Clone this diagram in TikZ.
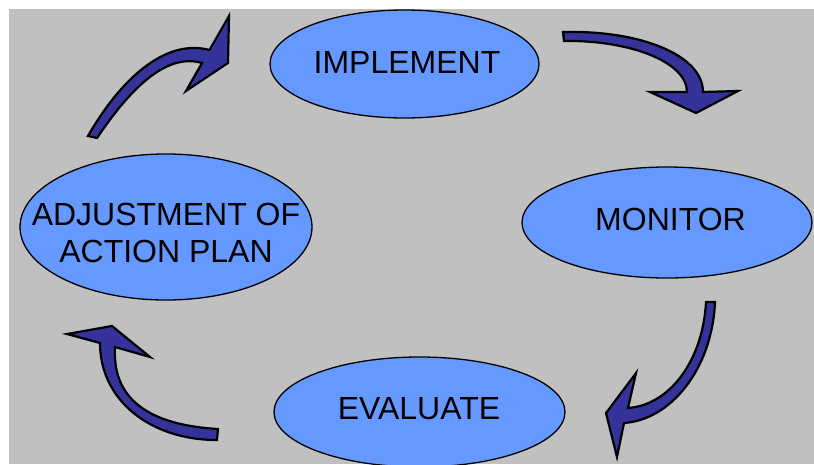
\documentclass[tikz,border=0pt]{standalone}
\usepackage{fontspec}
\setmainfont{Liberation Sans}
\usetikzlibrary{shapes.geometric}
\definecolor{panelgray}{HTML}{C0C0C0}
\definecolor{stagefill}{HTML}{6699FF}
\definecolor{arrowfill}{HTML}{333399}
\begin{document}
\begin{tikzpicture}[x=1pt,y=-1pt,
  stage/.style={ellipse,draw=black,line width=1.3pt,fill=stagefill,inner sep=0pt},
  stagetext/.style={font=\fontsize{32}{37}\selectfont,align=center,text=black,inner sep=0pt},
  cyclearrow/.style={fill=arrowfill,draw=black,line width=2.2pt,line join=miter,miter limit=10}]
  \useasboundingbox (0,0) rectangle (814,464);
  \fill[white] (0,0) rectangle (814,464);
  \fill[panelgray] (9,9) rectangle (814,464);

  % the four stages of the cycle
  \node[stage,minimum width=269pt,minimum height=108pt] (implement) at (404.5,64) {};
  \node[stage,minimum width=290pt,minimum height=111pt] (monitor) at (667,222.5) {};
  \node[stage,minimum width=291pt,minimum height=110pt] (evaluate) at (419.5,412) {};
  \node[stage,minimum width=292pt,minimum height=146pt] (adjust) at (166,227) {};

  \node[stagetext] (implementlabel) at (407,62.5) {IMPLEMENT};
  \node[stagetext] (monitorlabel) at (670.5,219) {MONITOR};
  \node[stagetext] (evaluatelabel) at (419,408.5) {EVALUATE};
  \node[stagetext] (adjustlabel) at (166,232.5) {ADJUSTMENT OF\\ACTION PLAN};

  % curved block arrows between the stages
  % adjustment -> implement
  \draw[cyclearrow] (88,136) .. controls (120,80) and (165,38) .. (209.5,50)
    -- (229,16) -- (228,63) -- (186,91) -- (202,63)
    .. controls (165,52) and (128,92) .. (97,138) -- cycle;
  % implement -> monitor
  \draw[cyclearrow] (563,32) .. controls (640,30) and (703,55) .. (703,92)
    -- (738,91) -- (696,113) -- (650,92) -- (687,92)
    .. controls (687,62) and (630,40) .. (564,41) -- cycle;
  % monitor -> evaluate
  \draw[cyclearrow] (706,302) -- (715,302) .. controls (712,370) and (670,420) .. (624,423)
    -- (617,457) -- (606,413) -- (636,373) -- (628,408)
    .. controls (670,405) and (703,360) .. (706,302) -- cycle;
  % evaluate -> adjustment
  \draw[cyclearrow] (218,429) .. controls (150,425) and (112,400) .. (115,347)
    -- (150,357) -- (112,326) -- (67,334) -- (100,343)
    .. controls (100,400) and (150,440) .. (217,440) -- cycle;
\end{tikzpicture}
\end{document}
